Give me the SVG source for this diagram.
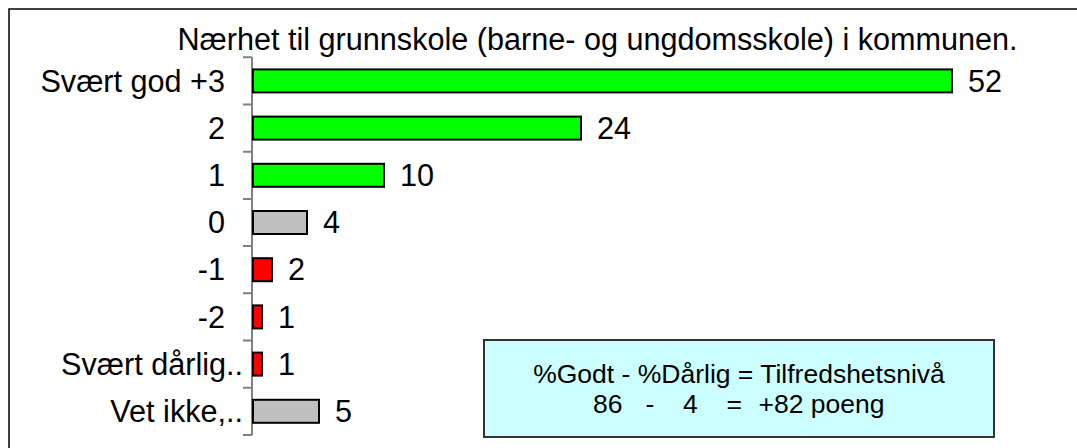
<svg xmlns="http://www.w3.org/2000/svg" width="1077" height="448" viewBox="0 0 1077 448">
<style>
text{font-family:"Liberation Sans",Arial,sans-serif;fill:#000}
.t{font-size:30.6px}
.lab{font-size:30.6px;text-anchor:end}
.val{font-size:30.6px}
.box{font-size:26.5px}
.bar{stroke:#000;stroke-width:2}
.g{fill:#00FF00}.s{fill:#C0C0C0}.r{fill:#FF0000}
.ax{stroke:#808080;stroke-width:2;fill:none}
</style>
<rect width="1077" height="448" fill="#fff"/>
<path d="M9,448 V9 H1077" fill="none" stroke="#000" stroke-width="1.5"/>
<text class="t" x="177.5" y="50">Nærhet til grunnskole (barne- og ungdomsskole) i kommunen.</text>
<g id="axis">
<path class="ax" d="M252,57.3 V435 M243,57.3 H252 M243,104.5 H252 M243,151.7 H252 M243,198.9 H252 M243,246.1 H252 M243,293.3 H252 M243,340.5 H252 M243,387.7 H252 M243,435 H252"/>
</g>
<g id="bar0"><text class="lab" x="225" y="91.6">Svært god +3</text><rect class="bar g" x="253" y="69.4" width="699" height="23"/><text class="val" x="968" y="91.6">52</text></g>
<g id="bar1"><text class="lab" x="225" y="138.8">2</text><rect class="bar g" x="253" y="116.6" width="328" height="23"/><text class="val" x="597" y="138.8">24</text></g>
<g id="bar2"><text class="lab" x="225" y="186">1</text><rect class="bar g" x="253" y="163.8" width="131" height="23"/><text class="val" x="400" y="186">10</text></g>
<g id="bar3"><text class="lab" x="225" y="233.2">0</text><rect class="bar s" x="253" y="211" width="54" height="23"/><text class="val" x="323" y="233.2">4</text></g>
<g id="bar4"><text class="lab" x="225" y="280.4">-1</text><rect class="bar r" x="253" y="258.2" width="19" height="23"/><text class="val" x="288" y="280.4">2</text></g>
<g id="bar5"><text class="lab" x="225" y="327.6">-2</text><rect class="bar r" x="253" y="305.4" width="9" height="23"/><text class="val" x="278" y="327.6">1</text></g>
<g id="bar6"><text class="lab" x="243" y="374.8">Svært dårlig..</text><rect class="bar r" x="253" y="352.6" width="9" height="23"/><text class="val" x="278" y="374.8">1</text></g>
<g id="bar7"><text class="lab" x="243" y="422">Vet ikke,..</text><rect class="bar s" x="253" y="399.8" width="66" height="23"/><text class="val" x="335" y="422">5</text></g>
<g id="summary">
<rect x="484" y="340" width="510" height="97" fill="#CCFFFF" stroke="#333" stroke-width="2"/>
<text class="box" x="739" y="383" text-anchor="middle">%Godt - %Dårlig = Tilfredshetsnivå</text>
<text class="box" y="413"><tspan x="593">86</tspan><tspan x="645.5">-</tspan><tspan x="683">4</tspan><tspan x="726.5">=</tspan><tspan x="758.5">+82 poeng</tspan></text>
</g>
</svg>
